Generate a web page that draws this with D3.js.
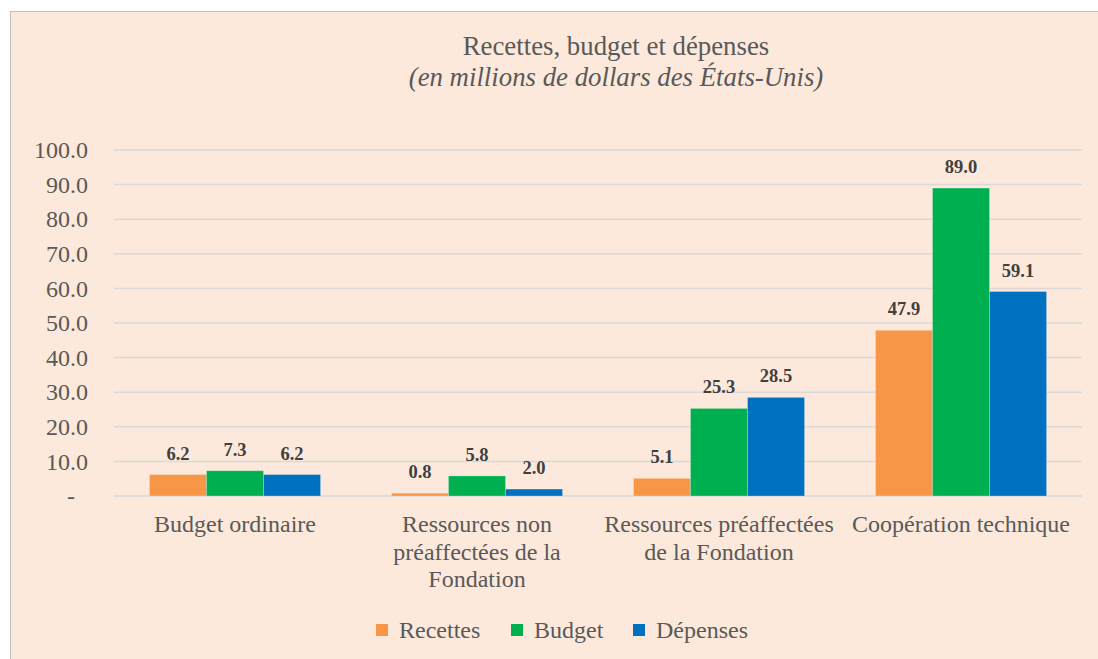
<!DOCTYPE html>
<html>
<head>
<meta charset="utf-8">
<script src="https://cdn.jsdelivr.net/npm/d3@7"></script>
<style>
  body { margin: 0; background: #fff; }
</style>
</head>
<body>
<div id="chart"></div>
<script>
// data
var categories = ["Budget ordinaire", "Ressources non préaffectées de la Fondation", "Ressources préaffectées de la Fondation", "Coopération technique"];
var categoryLines = [["Budget ordinaire"], ["Ressources non", "préaffectées de la", "Fondation"], ["Ressources préaffectées", "de la Fondation"], ["Coopération technique"]];
var seriesNames = ["Recettes", "Budget", "Dépenses"];
var recettes = [6.2, 0.8, 5.1, 47.9];
var budget = [7.3, 5.8, 25.3, 89.0];
var depenses = [6.2, 2.0, 28.5, 59.1];
var yTicks = [0, 10, 20, 30, 40, 50, 60, 70, 80, 90, 100];
var colors = ["#F79646", "#00B050", "#0070C0"];

var FONT = "'Liberation Serif'";
// serif only comes out at some sizes here, so 24px text is drawn at 20px and scaled up
var K = 1.2;
var W = 1098, H = 659;
var plot = {left: 114, right: 1082, top: 150, bottom: 496};

var svg = d3.select("#chart").append("svg")
    .attr("width", W)
    .attr("height", H)
    .style("font-family", FONT);

// chart area box
svg.append("rect")
    .attr("x", 10.5).attr("y", 11.5)
    .attr("width", W).attr("height", H)
    .attr("fill", "#FCE9DB")
    .attr("stroke", "#BFBFBF");

// titles
svg.append("text")
    .attr("x", 616).attr("y", 55)
    .attr("text-anchor", "middle")
    .style("font-family", FONT)
    .style("font-size", "26.8px")
    .style("fill", "#595959")
    .text("Recettes, budget et dépenses");
svg.append("text")
    .attr("x", 616).attr("y", 86)
    .attr("text-anchor", "middle")
    .style("font-family", FONT)
    .style("font-size", "26.8px")
    .style("font-style", "italic")
    .style("fill", "#595959")
    .text("(en millions de dollars des États-Unis)");

var x0 = d3.scaleBand()
    .domain(categories)
    .range([plot.left, plot.right])
    .paddingInner(0.293)
    .paddingOuter(0.1465);

var x1 = d3.scaleBand()
    .domain(seriesNames)
    .range([0, x0.bandwidth()]);

var y = d3.scaleLinear()
    .domain([0, 100])
    .range([plot.bottom, plot.top]);

// gridlines
svg.append("g")
    .selectAll("line")
    .data(yTicks)
    .enter()
    .append("line")
      .attr("x1", plot.left).attr("x2", plot.right)
      .attr("y1", function(d){ return y(d); })
      .attr("y2", function(d){ return y(d); })
      .attr("stroke", "#D9D9D9")
      .attr("stroke-width", 1.5);

// y axis labels
var yAxis = d3.axisLeft(y)
    .tickValues(yTicks)
    .tickSize(0)
    .tickPadding(26)
    .tickFormat(function(d){ return d === 0 ? "-" : d.toFixed(1); });

var yg = svg.append("g")
    .attr("transform", "translate(" + plot.left + ",0)")
    .call(yAxis)
    .attr("font-family", null)
    .attr("font-size", null);
yg.select(".domain").remove();
yg.selectAll("text")
    .attr("transform", "scale(" + K + ")")
    .attr("x", function(d){ return (d === 0 ? -39 : -26) / K; })
    .style("font-family", FONT)
    .style("font-size", "20px")
    .style("fill", "#595959");

var series = [recettes, budget, depenses];

var groups = svg.append("g")
    .selectAll("g")
    .data(series)
    .enter()
    .append("g")
      .attr("fill", function(d, i){ return colors[i]; });

groups.selectAll("rect")
    .data(function(d, i){ return d.map(function(v, j){ return {s: seriesNames[i], c: categories[j], v: v}; }); })
    .enter()
    .append("rect")
      .attr("x", function(d){ return x0(d.c) + x1(d.s); })
      .attr("y", function(d){ return y(d.v); })
      .attr("width", x1.bandwidth())
      .attr("height", function(d){ return y(0) - y(d.v); })
      .attr("stroke", "rgba(255,255,255,0.25)")
      .attr("stroke-width", 1);

// value labels
groups.selectAll("text")
    .data(function(d, i){ return d.map(function(v, j){ return {s: seriesNames[i], c: categories[j], v: v}; }); })
    .enter()
    .append("text")
      .attr("x", function(d){ return x0(d.c) + x1(d.s) + x1.bandwidth() / 2; })
      .attr("y", function(d){ return y(d.v) - 15; })
      .attr("text-anchor", "middle")
      .style("font-family", FONT)
      .style("font-size", "18.5px")
      .style("font-weight", "bold")
      .style("fill", "#404040")
      .text(function(d){ return d.v.toFixed(1); });

// category labels
var cat = svg.append("g")
    .selectAll("text")
    .data(categories)
    .enter()
    .append("text")
      .attr("text-anchor", "middle")
      .attr("transform", function(d){ return "translate(" + (x0(d) + x0.bandwidth() / 2) + ",532) scale(" + K + ")"; })
      .style("font-family", FONT)
      .style("font-size", "20px")
      .style("fill", "#595959");

cat.selectAll("tspan")
    .data(function(d, i){ return categoryLines[i]; })
    .enter()
    .append("tspan")
      .attr("x", 0)
      .attr("dy", function(d, i){ return i === 0 ? 0 : 27.5 / K; })
      .text(function(d){ return d; });

// legend
var legendX = [376, 511, 633];
var legend = svg.append("g")
    .selectAll("g")
    .data(seriesNames)
    .enter()
    .append("g")
      .attr("transform", function(d, i){ return "translate(" + legendX[i] + ",624)"; });

legend.append("rect")
    .attr("width", 12).attr("height", 12)
    .attr("fill", function(d, i){ return colors[i]; });

legend.append("text")
    .attr("transform", "translate(23,14) scale(" + K + ")")
    .style("font-family", FONT)
    .style("font-size", "20px")
    .style("fill", "#595959")
    .text(function(d){ return d; });
</script>
</body>
</html>
